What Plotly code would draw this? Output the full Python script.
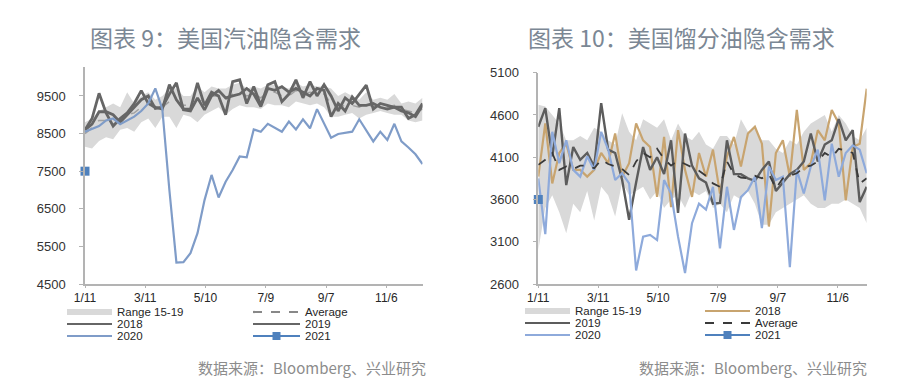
import pandas as pd
import plotly.graph_objects as go

# ---------------- data ----------------
tick_vals = ["2020-01-11", "2020-03-11", "2020-05-10", "2020-07-09", "2020-09-07", "2020-11-06"]
tick_text = ["1/11", "3/11", "5/10", "7/9", "9/7", "11/6"]

weeks1 = [d.strftime("%Y-%m-%d") for d in pd.date_range("2020-01-11", periods=49, freq="7D")]
weeks2 = [d.strftime("%Y-%m-%d") for d in pd.date_range("2020-01-11", periods=48, freq="7D")]

# Chart 9: gasoline implied demand
gas_range_low = [8150, 8100, 8300, 8400, 8350, 8600, 8650, 8550, 8800, 8900,
                 8650, 8950, 8950, 8650, 9000, 8950, 8800, 9000, 9100, 9200,
                 9000, 9150, 9250, 9200, 9200, 9150, 9300, 9250, 9250, 9200,
                 9350, 9300, 9250, 9300, 9200, 8950, 8950, 9000, 9050, 8900,
                 9000, 9050, 9100, 9050, 9000, 9000, 8850, 8800, 8850]
gas_range_high = [8800, 8900, 9100, 9200, 9300, 9200, 9600, 9300, 9500, 9600,
                  9400, 9500, 9700, 9700, 9500, 9500, 9750, 9600, 9750, 9700,
                  9700, 9800, 9850, 9700, 9750, 9700, 9800, 9800, 9750, 9700,
                  9850, 9750, 9800, 9750, 9750, 9700, 9500, 9600, 9500, 9400,
                  9600, 9400, 9450, 9400, 9550, 9300, 9350, 9300, 9450]
gas_avg = [8500, 8650, 8850, 8850, 8800, 8850, 9000, 9050, 9200, 9300,
           9150, 9200, 9350, 9350, 9250, 9250, 9400, 9350, 9500, 9500,
           9400, 9550, 9600, 9500, 9550, 9450, 9600, 9600, 9500, 9500,
           9650, 9550, 9600, 9550, 9550, 9300, 9200, 9250, 9250, 9200,
           9300, 9200, 9250, 9200, 9250, 9150, 9100, 9050, 9150]
gas_2018 = [8600, 8900, 9570, 9050, 8700, 8900, 9050, 9300, 9640, 9300,
            9200, 9150, 9800, 9400, 9150, 9150, 9850, 9250, 9600, 9500,
            9000, 9880, 9930, 9300, 9750, 9250, 9800, 9880, 9350, 9550,
            9930, 9450, 9880, 9500, 9800, 9500, 9100, 9450, 9300, 9550,
            9790, 9150, 9300, 9250, 9200, 9200, 8900, 9000, 9300]
gas_2019 = [8600, 8750, 9080, 9080, 9000, 8800, 9000, 9200, 9400, 9500,
            9170, 9200, 9550, 9850, 9130, 9100, 9450, 9130, 9500, 9650,
            9450, 9500, 9550, 9700, 9550, 9220, 9700, 9650, 9750, 9600,
            9700, 9600, 9500, 9700, 9650, 8950, 9300, 9100, 9480, 9250,
            9250, 9300, 9200, 9150, 9200, 9100, 9050, 8950, 9250]
gas_2020 = [8550, 8620, 8700, 8850, 8900, 8750, 8850, 8950, 9100, 9300,
            9700, 9150, 7000, 5070, 5080, 5320, 5850, 6730, 7400, 6800,
            7220, 7530, 7890, 7870, 8610, 8550, 8760, 8660, 8550, 8820,
            8610, 8880, 8640, 9150, 8770, 8390, 8490, 8530, 8550, 8880,
            8600, 8290, 8550, 8330, 8760, 8290, 8130, 7950, 7690]
gas_2021 = [7500]

# Chart 10: distillate implied demand
dist_range_low = [3000, 3500, 3650, 3450, 3200, 3550, 3450, 3700, 3350, 3750,
                  3650, 3400, 3800, 3650, 3700, 3750, 3600, 3700, 3500, 3600,
                  3650, 3500, 3700, 3650, 3700, 3500, 3550, 3450, 3650, 3600,
                  3700, 3550, 3300, 3300, 3450, 3500, 3550, 3600, 3650, 3550,
                  3500, 3500, 3550, 3550, 3600, 3550, 3500, 3320]
dist_range_high = [4720, 4700, 4600, 4500, 4300, 4300, 4350, 4300, 4450, 4400,
                   4300, 4250, 4620, 4400, 4300, 4550, 4500, 4450, 4550, 4300,
                   4500, 4350, 4300, 4400, 4250, 4200, 4350, 4350, 4250, 4550,
                   4400, 4450, 4300, 4300, 4200, 4150, 4300, 4250, 4400, 4500,
                   4550, 4600, 4400, 4600, 4500, 4350, 4300, 4450]
dist_avg = [4010, 4070, 4150, 3950, 3990, 3960, 4000, 4000, 3970, 4070,
            4020, 3990, 3960, 3890, 4050, 4150, 4100, 4200, 4080, 4000,
            4060, 4020, 3980, 3940, 3880, 3790, 3750, 4050, 3900, 3860,
            3850, 3880, 3850, 3900, 3730, 3850, 3880, 3910, 3980, 4000,
            4050, 4150, 4100, 4200, 4180, 4150, 3790, 3850]
dist_2018 = [3870, 4500, 3790, 4150, 4260, 3950, 3950, 3870, 3950, 4150,
             4030, 4380, 3870, 4030, 4500, 4300, 4220, 3630, 4340, 3510,
             4420, 3950, 3630, 4150, 3870, 4190, 3670, 4110, 4340, 3990,
             4380, 4460, 4260, 3280, 4150, 4300, 3870, 4660, 3950, 4030,
             4420, 4300, 4660, 4500, 3590, 4220, 4260, 4910]
dist_2019 = [4460, 4680, 4110, 4680, 3770, 4220, 4070, 4150, 3990, 4740,
             4190, 4150, 3830, 3360, 3800, 4220, 3950, 4100, 3900, 4300,
             3440, 4380, 4000, 3850, 3800, 3550, 3560, 4300, 3900, 3900,
             3850, 3820, 3950, 4050, 3700, 3800, 3900, 3950, 4050, 4380,
             4050, 4250, 4300, 4550, 4300, 4420, 3570, 3750]
dist_2020 = [3850, 3190, 4400, 4030, 4300, 3950, 3870, 4110, 3950, 4400,
             4190, 3830, 3910, 3790, 2760, 3160, 3180, 3120, 3830, 3670,
             3160, 2730, 3320, 3550, 3480, 3750, 3020, 3750, 3240, 3630,
             3710, 3870, 3260, 3990, 3830, 3870, 2800, 3950, 3670, 3990,
             4190, 3590, 4260, 3870, 4150, 4240, 4190, 3910]
dist_2021 = [3600]

titles = ["图表 9：美国汽油隐含需求", "图表 10：美国馏分油隐含需求"]
source_text = "数据来源：Bloomberg、兴业研究"

for arr in [gas_range_low, gas_range_high, gas_avg, gas_2018, gas_2019, gas_2020]:
    assert len(arr) == 49, len(arr)
for arr in [dist_range_low, dist_range_high, dist_avg, dist_2018, dist_2019, dist_2020]:
    assert len(arr) == 48, len(arr)

# ---------------- styling ----------------
W, H = 900, 389
BAND = "#d9d9d9"
DARK1 = "#666666"
AVG1 = "#a0a0a0"
BLUE20 = "#7f9cc8"
BLUE20B = "#8eaadb"
BLUE21 = "#4f81bd"
TAN = "#c8a46f"
DARK2 = "#5c5c5c"
AVG2 = "#3a3a3a"
AXIS = "#b3b3b3"
CJK = "Noto Sans CJK SC"
LAT = "Liberation Sans, Arial"


def px(x):
    return x / W


def py(y):
    return 1 - y / H


fig = go.Figure()


def add_band(x, lo, hi, xa, ya):
    fig.add_trace(go.Scatter(x=x, y=lo, mode="lines", line=dict(width=0, color=BAND),
                             xaxis=xa, yaxis=ya, hoverinfo="skip", showlegend=False))
    fig.add_trace(go.Scatter(x=x, y=hi, mode="lines", line=dict(width=0, color=BAND),
                             fill="tonexty", fillcolor=BAND, xaxis=xa, yaxis=ya,
                             showlegend=False))


def add_line(x, y, color, width, xa, ya, dash="solid"):
    fig.add_trace(go.Scatter(x=x, y=y, mode="lines", line=dict(color=color, width=width, dash=dash),
                             xaxis=xa, yaxis=ya, showlegend=False))


# Panel 1
add_band(weeks1, gas_range_low, gas_range_high, "x", "y")
add_line(weeks1, gas_avg, AVG1, 1.5, "x", "y", dash="dash")
add_line(weeks1, gas_2018, DARK1, 2.8, "x", "y")
add_line(weeks1, gas_2019, DARK1, 2.8, "x", "y")
add_line(weeks1, gas_2020, BLUE20, 2.2, "x", "y")
fig.add_trace(go.Scatter(x=weeks1[:len(gas_2021)], y=gas_2021, mode="markers",
                         marker=dict(symbol="square", size=9, color=BLUE21),
                         xaxis="x", yaxis="y", showlegend=False, cliponaxis=False))

# Panel 2
add_band(weeks2, dist_range_low, dist_range_high, "x2", "y2")
add_line(weeks2, dist_2018, TAN, 2.2, "x2", "y2")
add_line(weeks2, dist_2019, DARK2, 2.4, "x2", "y2")
add_line(weeks2, dist_2020, BLUE20B, 2.2, "x2", "y2")
add_line(weeks2, dist_avg, AVG2, 1.8, "x2", "y2", dash="dash")
fig.add_trace(go.Scatter(x=weeks2[:len(dist_2021)], y=dist_2021, mode="markers",
                         marker=dict(symbol="square", size=9, color=BLUE21),
                         xaxis="x2", yaxis="y2", showlegend=False, cliponaxis=False))

xcommon = dict(type="date", tickmode="array", tickvals=tick_vals, ticktext=tick_text,
               showgrid=False, zeroline=False, showline=True, linecolor=AXIS, linewidth=1.5,
               ticks="outside", ticklen=2, tickcolor=AXIS, automargin=False,
               tickfont=dict(family=LAT, size=12, color="#262626"))
ycommon = dict(showgrid=False, zeroline=False, showline=True, linecolor=AXIS, linewidth=1.5,
               ticks="outside", ticklen=4, tickcolor=AXIS, ticklabelstandoff=11, automargin=False,
               tickfont=dict(family=LAT, size=13, color="#333333"))

fig.update_layout(
    width=W, height=H, autosize=False,
    margin=dict(l=0, r=0, t=0, b=0, pad=0),
    paper_bgcolor="white", plot_bgcolor="white",
    showlegend=False,
    xaxis=dict(xcommon, domain=[px(85), px(422.5)], range=["2020-01-11", "2020-12-12"], anchor="y"),
    yaxis=dict(ycommon, domain=[py(284), py(67)], range=[4500, 10270],
               tickvals=[4500, 5500, 6500, 7500, 8500, 9500], anchor="x"),
    xaxis2=dict(xcommon, domain=[px(538.3), px(866.7)], range=["2020-01-11", "2020-12-05"], anchor="y2"),
    yaxis2=dict(ycommon, domain=[py(284), py(72.7)], range=[2600, 5100],
                tickvals=[2600, 3100, 3600, 4100, 4600, 5100], anchor="x2"),
)

# Titles
fig.add_annotation(x=px(225), y=py(37), xref="paper", yref="paper", text=titles[0],
                   showarrow=False, xanchor="center", yanchor="middle",
                   font=dict(family=CJK, size=23, color="#7b8794"))
fig.add_annotation(x=px(681), y=py(37), xref="paper", yref="paper", text=titles[1],
                   showarrow=False, xanchor="center", yanchor="middle",
                   font=dict(family=CJK, size=23, color="#7b8794"))

# Source notes
for xr in [428, 869]:
    fig.add_annotation(x=px(xr), y=py(367), xref="paper", yref="paper", text=source_text,
                       showarrow=False, xanchor="right", yanchor="middle",
                       font=dict(family=CJK, size=15, color="#8c8c8c"))


# Manual legends
def leg_item(x0, x1, y, label, kind, color):
    if kind == "band":
        fig.add_shape(type="rect", xref="paper", yref="paper",
                      x0=px(x0), x1=px(x1), y0=py(y + 3), y1=py(y - 3),
                      fillcolor=BAND, line=dict(width=0))
    else:
        fig.add_shape(type="line", xref="paper", yref="paper",
                      x0=px(x0), x1=px(x1), y0=py(y), y1=py(y),
                      line=dict(color=color, width=2.2, dash="dash" if kind == "dash" else "solid"))
        if kind == "marker":
            xm = (x0 + x1) / 2
            fig.add_shape(type="rect", xref="paper", yref="paper",
                          x0=px(xm - 4), x1=px(xm + 4), y0=py(y + 4), y1=py(y - 4),
                          fillcolor=BLUE21, line=dict(width=0))
    fig.add_annotation(x=px(x1 + 3), y=py(y), xref="paper", yref="paper", text=label,
                       showarrow=False, xanchor="left", yanchor="middle",
                       font=dict(family=LAT, size=11.5, color="#262626"))


# Panel 1 legend
leg_item(67, 112, 312, "Range 15-19", "band", BAND)
leg_item(67, 112, 324, "2018", "line", DARK1)
leg_item(67, 112, 336, "2020", "line", BLUE20)
leg_item(253, 300, 312, "Average", "dash", "#888888")
leg_item(253, 300, 324, "2019", "line", DARK1)
leg_item(253, 300, 336, "2021", "marker", BLUE21)

# Panel 2 legend
leg_item(525, 570, 311, "Range 15-19", "band", BAND)
leg_item(525, 570, 323, "2019", "line", DARK2)
leg_item(525, 570, 335, "2020", "line", BLUE20B)
leg_item(705, 750, 311, "2018", "line", TAN)
leg_item(705, 750, 323, "Average", "dash", AVG2)
leg_item(705, 750, 335, "2021", "marker", BLUE21)

fig.write_html("out.html", config={"displayModeBar": False},
               post_script="document.body.style.margin='0px';document.body.style.padding='0px';")
